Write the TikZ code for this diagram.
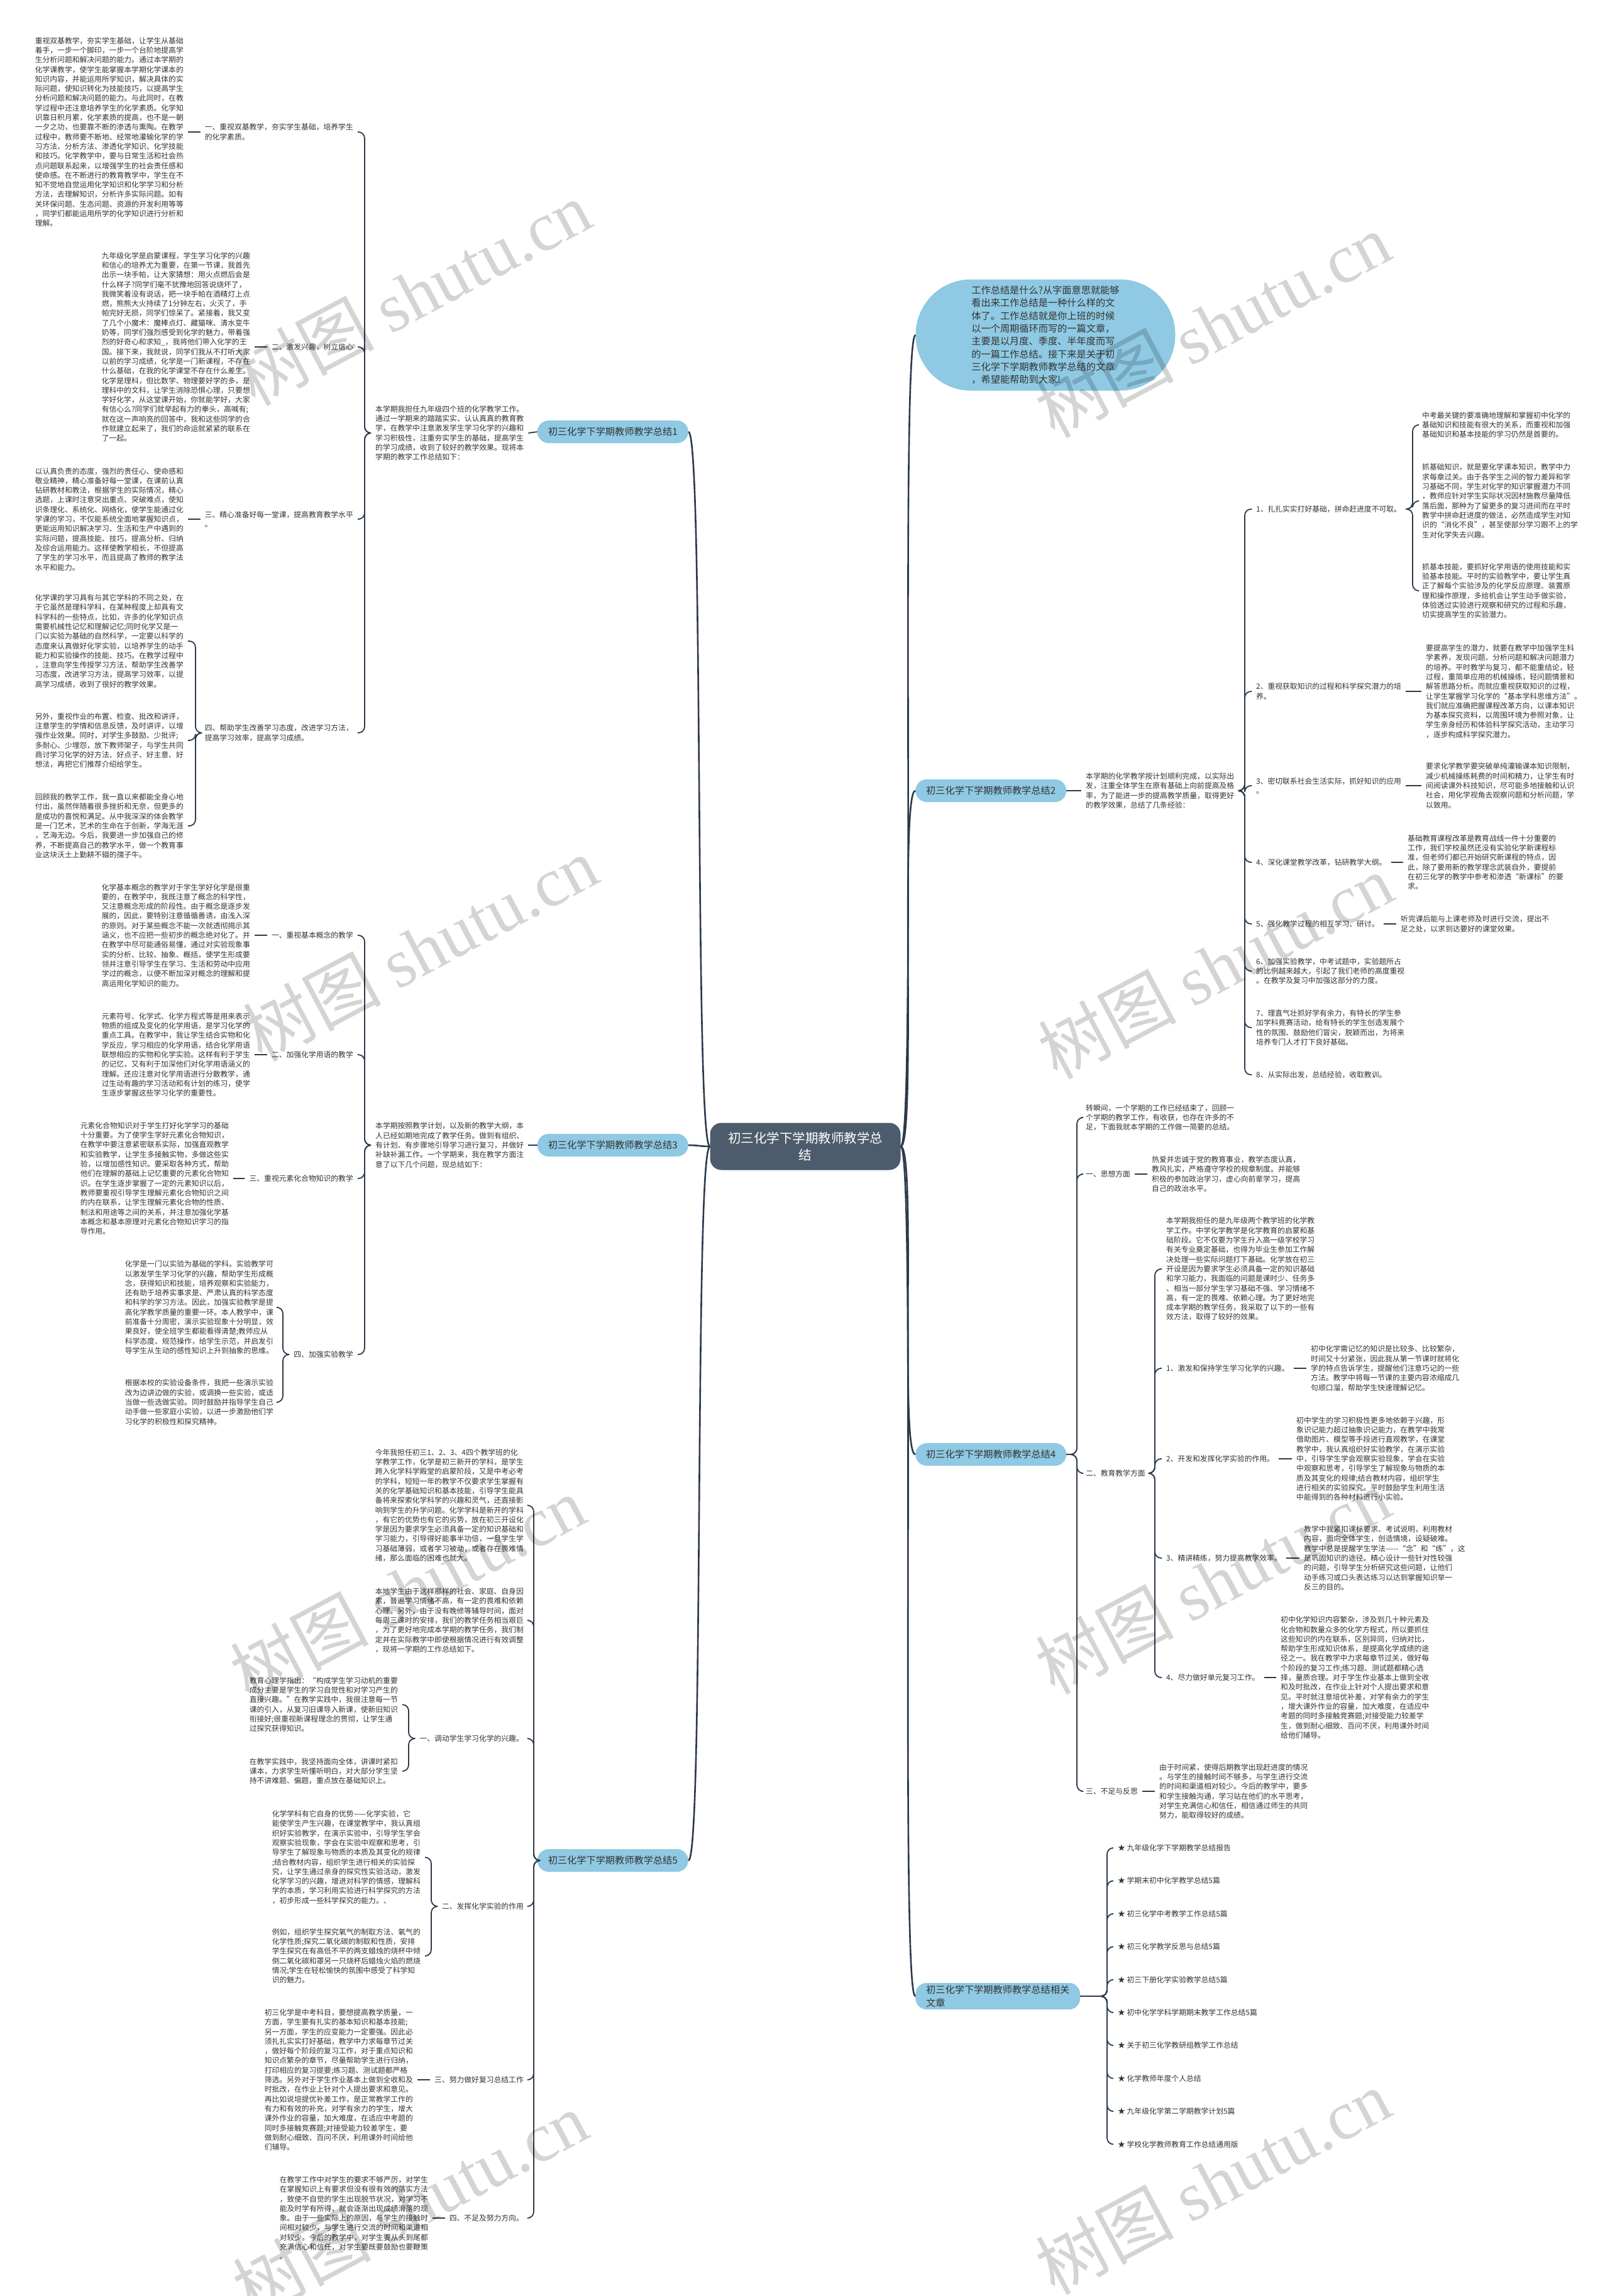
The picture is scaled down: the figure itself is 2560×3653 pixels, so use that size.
\documentclass[tikz,border=0pt]{standalone}
\usepackage{fontspec}
\setmainfont{Noto Sans CJK SC}
\newfontfamily\wmser{Liberation Serif}
\usetikzlibrary{calc}
\definecolor{linec}{RGB}{44,58,74}
\definecolor{nodec}{RGB}{143,201,227}
\definecolor{ctrc}{RGB}{76,92,108}
\definecolor{textc}{RGB}{51,51,51}
\newcommand\bodyf{\fontsize{11.8}{15.3}\selectfont}
\newcommand\brf{\fontsize{15.2}{20.3}\selectfont}
\newcommand\ctrf{\fontsize{20.5}{27}\selectfont}
\newcommand\wmf{\fontsize{110}{110}\selectfont}
\tikzset{
  tx/.style={inner xsep=7pt, inner ysep=1pt, align=left, font=\bodyf, text=textc},
  txe/.style={tx, anchor=east},
  txw/.style={tx, anchor=west},
  bn/.style={fill=nodec, rounded corners=18pt, minimum height=36pt, inner xsep=17pt, inner ysep=4pt, font=\brf, text=textc, align=left},
  ln/.style={draw=linec, line width=1.8pt, rounded corners=10pt},
  cl/.style={draw=linec, line width=2.6pt},
  wm/.style={text=black, opacity=0.17, rotate=28, inner sep=0pt}
}
\begin{document}
\begin{tikzpicture}[x=1pt,y=-1pt]
\path[use as bounding box, fill=white] (0,0) rectangle (2560,3653);

% ---------- center ----------
\node[fill=ctrc, rounded corners=18pt, minimum width=303pt, minimum height=75pt, font=\ctrf, text=white, align=center] (c) at (1281,1824) {初三化学下学期教师教学总\\结};

% ---------- intro bubble ----------
\node[fill=nodec, rounded corners=88pt, minimum width=413pt, minimum height=177pt, font=\brf, text=textc, align=left] (bub) at (1663,533) {工作总结是什么?从字面意思就能够\\看出来工作总结是一种什么样的文\\体了。工作总结就是你上班的时候\\以一个周期循环而写的一篇文章，\\主要是以月度、季度、半年度而写\\的一篇工作总结。接下来是关于初\\三化学下学期教师教学总结的文章\\，希望能帮助到大家!};

% ---------- branch nodes ----------
\node[bn, anchor=east] (b1) at (1095,687) {初三化学下学期教师教学总结1};
\node[bn, anchor=east] (b3) at (1095,1822) {初三化学下学期教师教学总结3};
\node[bn, anchor=east] (b5) at (1095,2960) {初三化学下学期教师教学总结5};
\node[bn, anchor=west] (b2) at (1456,1258) {初三化学下学期教师教学总结2};
\node[bn, anchor=west] (b4) at (1456,2314) {初三化学下学期教师教学总结4};
\node[bn, anchor=west] (b6) at (1456,3176) {初三化学下学期教师教学总结相关\\文章};

\draw[cl] (c.west) .. controls +(-25,0) and +(25,0) .. (b1.east);
\draw[cl] (c.west) .. controls +(-15,0) and +(15,0) .. (b3.east);
\draw[cl] (c.west) .. controls +(-25,0) and +(25,0) .. (b5.east);
\draw[cl] (c.east) .. controls +(25,0) and +(-25,0) .. (bub.west);
\draw[cl] (c.east) .. controls +(25,0) and +(-25,0) .. (b2.west);
\draw[cl] (c.east) .. controls +(25,0) and +(-25,0) .. (b4.west);
\draw[cl] (c.east) .. controls +(25,0) and +(-25,0) .. (b6.west);

% ================= BRANCH 1 =================
\node[txw] (i1) at (590,689) {本学期我担任九年级四个班的化学教学工作。\\通过一学期来的踏踏实实、认认真真的教育教\\学，在教学中注意激发学生学习化学的兴趣和\\学习积极性，注重夯实学生的基础，提高学生\\的学习成绩，收到了较好的教学效果。现将本\\学期的教学工作总结如下：};
\coordinate (v1) at (580,689);
\draw[ln] (b1.west) -- (i1.east);

\node[txe] (l1a) at (569,210) {一、重视双基教学，夯实学生基础，培养学生\\的化学素质。};
\node[txe] (t1a) at (299,210) {重视双基教学，夯实学生基础，让学生从基础\\着手，一步一个脚印，一步一个台阶地提高学\\生分析问题和解决问题的能力。通过本学期的\\化学课教学，使学生能掌握本学期化学课本的\\知识内容，并能运用所学知识，解决具体的实\\际问题，使知识转化为技能技巧，以提高学生\\分析问题和解决问题的能力。与此同时，在教\\学过程中还注意培养学生的化学素质。化学知\\识靠日积月累，化学素质的提高，也不是一朝\\一夕之功，也要靠不断的渗透与熏陶。在教学\\过程中，教师要不断地、经常地灌输化学的学\\习方法、分析方法、渗透化学知识、化学技能\\和技巧。化学教学中，要与日常生活和社会热\\点问题联系起来，以增强学生的社会责任感和\\使命感。在不断进行的教育教学中，学生在不\\知不觉地自觉运用化学知识和化学学习和分析\\方法，去理解知识，分析许多实际问题。如有\\关环保问题、生态问题、资源的开发利用等等\\，同学们都能运用所学的化学知识进行分析和\\理解。};
\node[txe] (l1b) at (569,552) {二、激发兴趣，树立信心};
\node[txe] (t1b) at (405,552) {九年级化学是启蒙课程，学生学习化学的兴趣\\和信心的培养尤为重要，在第一节课，我首先\\出示一块手帕，让大家猜想：用火点燃后会是\\什么样子?同学们毫不犹豫地回答说烧坏了，\\我微笑着没有说话，把一块手帕在酒精灯上点\\燃，熊熊大火持续了1分钟左右，火灭了，手\\帕完好无损，同学们惊呆了。紧接着，我又变\\了几个小魔术：魔棒点灯、藏猫咪、清水变牛\\奶等，同学们强烈感受到化学的魅力，带着强\\烈的好奇心和求知\_，我将他们带入化学的王\\国。接下来，我就说，同学们我从不打听大家\\以前的学习成绩，化学是一门新课程，不存在\\什么基础，在我的化学课堂不存在什么差生。\\化学是理科，但比数学、物理要好学的多，是\\理科中的文科，让学生消除恐惧心理，只要想\\学好化学，从这堂课开始，你就能学好，大家\\有信心么?同学们就举起有力的拳头，高喊有;\\就在这一声响亮的回答中，我和这些同学的合\\作就建立起来了，我们的命运就紧紧的联系在\\了一起。};
\node[txe] (l1c) at (569,826) {三、精心准备好每一堂课，提高教育教学水平\\。};
\node[txe] (t1c) at (299,826) {以认真负责的态度，强烈的责任心、使命感和\\敬业精神，精心准备好每一堂课，在课前认真\\钻研教材和教法，根据学生的实际情况，精心\\选题，上课时注意突出重点、突破难点，使知\\识条理化、系统化、网络化，使学生能通过化\\学课的学习，不仅能系统全面地掌握知识点，\\更能运用知识解决学习、生活和生产中遇到的\\实际问题，提高技能、技巧，提高分析、归纳\\及综合运用能力。这样使教学相长，不但提高\\了学生的学习水平，而且提高了教师的教学法\\水平和能力。};
\node[txe] (l1d) at (569,1166) {四、帮助学生改善学习态度，改进学习方法，\\提高学习效率，提高学习成绩。};
\coordinate (v1d) at (311,1166);
\node[txe] (t1d1) at (299,1020) {化学课的学习具有与其它学科的不同之处，在\\于它虽然是理科学科，在某种程度上却具有文\\科学科的一些特点，比如，许多的化学知识点\\需要机械性记忆和理解记忆;同时化学又是一\\门以实验为基础的自然科学，一定要以科学的\\态度来认真做好化学实验，以培养学生的动手\\能力和实验操作的技能、技巧。在教学过程中\\，注意向学生传授学习方法，帮助学生改善学\\习态度，改进学习方法，提高学习效率，以提\\高学习成绩，收到了很好的教学效果。};
\node[txe] (t1d2) at (299,1178) {另外，重视作业的布置、检查、批改和讲评，\\注意学生的学情和信息反馈，及时讲评，以增\\强作业效果。同时，对学生多鼓励、少批评;\\多耐心、少埋怨，放下教师架子，与学生共同\\商讨学习化学的好方法、好点子、好主意、好\\想法，再把它们推荐介绍给学生。};
\node[txe] (t1d3) at (299,1314) {回顾我的教学工作，我一直以来都能全身心地\\付出，虽然伴随着很多挫折和无奈，但更多的\\是成功的喜悦和满足。从中我深深的体会教学\\是一门艺术，艺术的生命在于创新，学海无涯\\，艺海无边。今后，我要进一步加强自己的修\\养，不断提高自己的教学水平，做一个教育事\\业这块沃土上勤耕不辍的孺子牛。};

\foreach \n in {l1a,l1b,l1c,l1d}{\draw[ln] (\n.east) -- (\n.east -| v1) -- (v1) -- (i1.west);}
\draw[ln] (t1a.east) -- (l1a.west);
\draw[ln] (t1b.east) -- (l1b.west);
\draw[ln] (t1c.east) -- (l1c.west);
\foreach \n in {t1d1,t1d2,t1d3}{\draw[ln] (\n.east) -- (\n.east -| v1d) -- (v1d) -- (l1d.west);}

% ================= BRANCH 3 =================
\node[txw] (i3) at (590,1822) {本学期按照教学计划，以及新的教学大纲，本\\人已经如期地完成了教学任务。做到有组织、\\有计划、有步骤地引导学习进行复习，并做好\\补缺补漏工作。一个学期来，我在教学方面注\\意了以下几个问题，现总结如下：};
\coordinate (v3) at (580,1822);
\draw[ln] (b3.west) -- (i3.east);
\node[txe] (l3a) at (569,1488) {一、重视基本概念的教学};
\node[txe] (t3a) at (405,1488) {化学基本概念的教学对于学生学好化学是很重\\要的，在教学中，我既注意了概念的科学性，\\又注意概念形成的阶段性。由于概念是逐步发\\展的，因此，要特别注意循循善诱，由浅入深\\的原则。对于某些概念不能一次就透彻揭示其\\涵义，也不应把一些初步的概念绝对化了。并\\在教学中尽可能通俗易懂，通过对实验现象事\\实的分析、比较、抽象、概括，使学生形成要\\领并注意引导学生在学习、生活和劳动中应用\\学过的概念，以便不断加深对概念的理解和提\\高运用化学知识的能力。};
\node[txe] (l3b) at (569,1678) {二、加强化学用语的教学};
\node[txe] (t3b) at (405,1678) {元素符号、化学式、化学方程式等是用来表示\\物质的组成及变化的化学用语，是学习化学的\\重点工具。在教学中，我让学生结合实物和化\\学反应，学习相应的化学用语，结合化学用语\\联想相应的实物和化学实验。这样有利于学生\\的记忆，又有利于加深他们对化学用语涵义的\\理解。还应注意对化学用语进行分散教学，通\\过生动有趣的学习活动和有计划的练习，使学\\生逐步掌握这些学习化学的重要性。};
\node[txe] (l3c) at (569,1875) {三、重视元素化合物知识的教学};
\node[txe] (t3c) at (371,1875) {元素化合物知识对于学生打好化学学习的基础\\十分重要。为了使学生学好元素化合物知识，\\在教学中要注意紧密联系实际，加强直观教学\\和实验教学，让学生多接触实物，多做这些实\\验，以增加感性知识。要采取各种方式，帮助\\他们在理解的基础上记忆重要的元素化合物知\\识。在学生逐步掌握了一定的元素知识以后，\\教师要重视引导学生理解元素化合物知识之间\\的内在联系，让学生理解元素化合物的性质、\\制法和用途等之间的关系，并注意加强化学基\\本概念和基本原理对元素化合物知识学习的指\\导作用。};
\node[txe] (l3d) at (569,2155) {四、加强实验教学};
\coordinate (v3d) at (450,2155);
\node[txe] (t3d1) at (442,2080) {化学是一门以实验为基础的学科。实验教学可\\以激发学生学习化学的兴趣，帮助学生形成概\\念，获得知识和技能，培养观察和实验能力，\\还有助于培养实事求是、严肃认真的科学态度\\和科学的学习方法。因此，加强实验教学是提\\高化学教学质量的重要一环。本人教学中，课\\前准备十分周密，演示实验现象十分明显，效\\果良好，使全班学生都能看得清楚;教师应从\\科学态度、规范操作，给学生示范，并启发引\\导学生从生动的感性知识上升到抽象的思维。};
\node[txe] (t3d2) at (442,2231) {根据本校的实验设备条件，我把一些演示实验\\改为边讲边做的实验，或调换一些实验，或适\\当做一些选做实验。同时鼓励并指导学生自己\\动手做一些家庭小实验，以进一步激励他们学\\习化学的积极性和探究精神。};
\foreach \n in {l3a,l3b,l3c,l3d}{\draw[ln] (\n.east) -- (\n.east -| v3) -- (v3) -- (i3.west);}
\draw[ln] (t3a.east) -- (l3a.west);
\draw[ln] (t3b.east) -- (l3b.west);
\draw[ln] (t3c.east) -- (l3c.west);
\foreach \n in {t3d1,t3d2}{\draw[ln] (\n.east) -- (\n.east -| v3d) -- (v3d) -- (l3d.west);}

% ================= BRANCH 5 =================
\coordinate (v5) at (849,2960);
\node[txe] (i5a) at (840,2395) {今年我担任初三1、2、3、4四个教学班的化\\学教学工作，化学是初三新开的学科，是学生\\跨入化学科学殿堂的启蒙阶段，又是中考必考\\的学科，短短一年的教学不仅要求学生掌握有\\关的化学基础知识和基本技能，引导学生能具\\备将来探索化学科学的兴趣和灵气，还直接影\\响到学生的升学问题。化学学科是新开的学科\\，有它的优势也有它的劣势，放在初三开设化\\学是因为要求学生必须具备一定的知识基础和\\学习能力，引导得好能事半功倍，一旦学生学\\习基础薄弱，或者学习被动，或者存在畏难情\\绪，那么面临的困难也就大。};
\node[txe] (i5b) at (840,2578) {本地学生由于这样那样的社会、家庭、自身因\\素，普遍学习情绪不高，有一定的畏难和依赖\\心理。另外，由于没有晚修等辅导时间，面对\\每周三课时的安排，我们的教学任务相当艰巨\\，为了更好地完成本学期的教学任务，我们制\\定并在实际教学中即使根据情况进行有效调整\\，现将一学期的工作总结如下。};
\node[txe] (l5a) at (840,2766) {一、调动学生学习化学的兴趣。};
\coordinate (v5a) at (650,2766);
\node[txe] (t5a1) at (640,2712) {教育心理学指出：“构成学生学习动机的重要\\成分主要是学生的学习自觉性和对学习产生的\\直接兴趣。”在教学实践中，我很注意每一节\\课的引入，从复习旧课导入新课，使新旧知识\\衔接好;很重视新课程理念的贯彻，让学生通\\过探究获得知识。};
\node[txe] (t5a2) at (640,2818) {在教学实践中，我坚持面向全体，讲课时紧扣\\课本，力求学生听懂听明白，对大部分学生坚\\持不讲难题、偏题，重点放在基础知识上。};
\node[txe] (l5b) at (840,3033) {二、发挥化学实验的作用};
\coordinate (v5b) at (686,3033);
\node[txe] (t5b1) at (676,2955) {化学学科有它自身的优势——化学实验，它\\能使学生产生兴趣，在课堂教学中，我认真组\\织好实验教学，在演示实验中，引导学生学会\\观察实验现象，学会在实验中观察和思考，引\\导学生了解现象与物质的本质及其变化的规律\\;结合教材内容，组织学生进行相关的实验探\\究，让学生通过亲身的探究性实验活动，激发\\化学学习的兴趣，增进对科学的情感，理解科\\学的本质，学习利用实验进行科学探究的方法\\，初步形成一些科学探究的能力。、};
\node[txe] (t5b2) at (676,3112) {例如，组织学生探究氧气的制取方法、氧气的\\化学性质;探究二氧化碳的制取和性质，安排\\学生探究在有高低不平的两支蜡烛的烧杯中倾\\倒二氧化碳和罩另一只烧杯后蜡烛火焰的燃烧\\情况;学生在轻松愉快的氛围中感受了科学知\\识的魅力。};
\node[txe] (l5c) at (840,3309) {三、努力做好复习总结工作};
\node[txe] (t5c) at (664,3309) {初三化学是中考科目，要想提高教学质量，一\\方面，学生要有扎实的基本知识和基本技能;\\另一方面，学生的应变能力一定要强。因此必\\须扎扎实实打好基础，教学中力求每章节过关\\，做好每个阶段的复习工作，对于重点知识和\\知识点繁杂的章节，尽量帮助学生进行归纳，\\打印相应的复习提要;练习题、测试题都严格\\筛选。另外对于学生作业基本上做到全收和及\\时批改，在作业上针对个人提出要求和意见。\\再比如说培提优补差工作，是正常教学工作的\\有力和有效的补充，对学有余力的学生，增大\\课外作业的容量，加大难度，在适应中考题的\\同时多接触竞赛题;对接受能力较差学生，要\\做到耐心细致、百问不厌，利用课外时间给他\\们辅导。};
\node[txe] (l5d) at (840,3529) {四、不足及努力方向。};
\node[txe] (t5d) at (688,3529) {在教学工作中对学生的要求不够严厉，对学生\\在掌握知识上有要求但没有很有效的落实方法\\，致使不自觉的学生出现脱节状况，对学习不\\能及时学有所得，就会逐渐出现成绩滑落的现\\象。由于一些实际上的原因，与学生的接触时\\间相对较少，与学生进行交流的时间和渠道相\\对较少。今后的教学中，对学生要从头到尾都\\充满信心和信任，对学生要既要鼓励也要鞭策\\。};
\foreach \n in {i5a,i5b,l5a,l5b,l5c,l5d}{\draw[ln] (\n.east) -- (\n.east -| v5) -- (v5) -- (b5.west);}
\foreach \n in {t5a1,t5a2}{\draw[ln] (\n.east) -- (\n.east -| v5a) -- (v5a) -- (l5a.west);}
\foreach \n in {t5b1,t5b2}{\draw[ln] (\n.east) -- (\n.east -| v5b) -- (v5b) -- (l5b.west);}
\draw[ln] (t5c.east) -- (l5c.west);
\draw[ln] (t5d.east) -- (l5d.west);

% ================= BRANCH 2 =================
\node[txw] (i2) at (1720,1258) {本学期的化学教学按计划顺利完成，以实际出\\发，注重全体学生在原有基础上向前提高及格\\率，为了能进一步的提高教学质量，取得更好\\的教学效果，总结了几条经验：};
\coordinate (v2) at (1980,1258);
\draw[ln] (b2.east) -- (i2.west);
\node[txw] (l21) at (1991,810) {1、扎扎实实打好基础，拼命赶进度不可取。};
\coordinate (v21) at (2247,810);
\node[txw] (t21a) at (2255,676) {中考最关键的要准确地理解和掌握初中化学的\\基础知识和技能有很大的关系，而重视和加强\\基础知识和基本技能的学习仍然是首要的。};
\node[txw] (t21b) at (2255,797) {抓基础知识，就是要化学课本知识，教学中力\\求每章过关。由于各学生之间的智力差异和学\\习基础不同，学生对化学的知识掌握潜力不同\\，教师应针对学生实际状况因材施教尽量降低\\落后面，那种为了留更多的复习进间而在平时\\教学中拼命赶进度的做法，必然造成学生对知\\识的“消化不良”，甚至使部分学习跟不上的学\\生对化学失去兴趣。};
\node[txw] (t21c) at (2255,940) {抓基本技能，要抓好化学用语的使用技能和实\\验基本技能。平时的实验教学中，要让学生真\\正了解每个实验涉及的化学反应原理、装置原\\理和操作原理，多给机会让学生动手做实验，\\体验透过实验进行观察和研究的过程和乐趣，\\切实提高学生的实验潜力。};
\node[txw] (l22) at (1991,1100) {2、重视获取知识的过程和科学探究潜力的培\\养。};
\node[txw] (t22) at (2261,1100) {要提高学生的潜力，就要在教学中加强学生科\\学素养，发现问题、分析问题和解决问题潜力\\的培养。平时教学与复习，都不能重结论，轻\\过程，重简单应用的机械操练，轻问题情景和\\解答思路分析。而就应重视获取知识的过程，\\让学生掌握学习化学的“基本学科思维方法”。\\我们就应准确把握课程改革方向，以课本知识\\为基本探究资料，以周围环境为参照对象，让\\学生亲身经历和体验科学探究活动，主动学习\\，逐步构成科学探究潜力。};
\node[txw] (l23) at (1991,1250) {3、密切联系社会生活实际，抓好知识的应用\\。};
\node[txw] (t23) at (2261,1250) {要求化学教学要突破单纯灌输课本知识限制，\\减少机械操练耗费的时间和精力，让学生有时\\间阅读课外科技知识，尽可能多地接触和认识\\社会，用化学视角去观察问题和分析问题，学\\以致用。};
\node[txw] (l24) at (1991,1372) {4、深化课堂教学改革，钻研教学大纲。};
\node[txw] (t24) at (2232,1372) {基础教育课程改革是教育战线一件十分重要的\\工作，我们学校虽然还没有实验化学新课程标\\准，但老师们都已开始研究新课程的特点，因\\此，除了要用新的教学理念武装自外，要提前\\在初三化学的教学中参考和渗透“新课标”的要\\求。};
\node[txw] (l25) at (1991,1470) {5、强化教学过程的相互学习、研讨。};
\node[txw] (t25) at (2221,1470) {听完课后能与上课老师及时进行交流，提出不\\足之处，以求到达要好的课堂效果。};
\node[txw] (l26) at (1991,1545) {6、加强实验教学，中考试题中，实验题所占\\的比例越来越大，引起了我们老师的高度重视\\。在教学及复习中加强这部分的力度。};
\node[txw] (l27) at (1991,1635) {7、理直气壮抓好学有余力，有特长的学生参\\加学科竟赛活动，给有特长的学生创造发展个\\性的氛围、鼓励他们冒尖，脱颖而出，为将来\\培养专门人才打下良好基础。};
\node[txw] (l28) at (1991,1710) {8、从实际出发，总结经验，收取教训。};
\foreach \n in {l21,l22,l23,l24,l25,l26,l27,l28}{\draw[ln] (i2.east) -- (v2) -- (v2 |- \n.west) -- (\n.west);}
\foreach \n in {t21a,t21b,t21c}{\draw[ln] (l21.east) -- (v21) -- (v21 |- \n.west) -- (\n.west);}
\draw[ln] (l22.east) -- (t22.west);
\draw[ln] (l23.east) -- (t23.west);
\draw[ln] (l24.east) -- (t24.west);
\draw[ln] (l25.east) -- (t25.west);

% ================= BRANCH 4 =================
\coordinate (v4) at (1713,2314);
\node[txw] (t40) at (1720,1778) {转瞬间，一个学期的工作已经结束了，回顾一\\个学期的教学工作，有收获，也存在许多的不\\足，下面我就本学期的工作做一简要的总结。};
\node[txw] (l41) at (1720,1868) {一、思想方面};
\node[txw] (t41) at (1825,1868) {热爱并忠诚于党的教育事业，教学态度认真，\\教风扎实，严格遵守学校的规章制度。并能够\\积极的参加政治学习，虚心向前辈学习，提高\\自己的政治水平。};
\node[txw] (l42) at (1720,2344) {二、教育教学方面};
\coordinate (v42) at (1837,2344);
\node[txw] (t420) at (1848,2019) {本学期我担任的是九年级两个教学班的化学教\\学工作。中学化学教学是化学教育的启蒙和基\\础阶段。它不仅要为学生升入高一级学校学习\\有关专业奠定基础，也得为毕业生参加工作解\\决处理一些实际问题打下基础。化学放在初三\\开设是因为要求学生必须具备一定的知识基础\\和学习能力，我面临的问题是课时少、任务多\\、相当一部分学生学习基础不强、学习情绪不\\高，有一定的畏难、依赖心理。为了更好地完\\成本学期的教学任务，我采取了以下的一些有\\效方法，取得了较好的效果。};
\node[txw] (l421) at (1848,2177) {1、激发和保持学生学习化学的兴趣。};
\node[txw] (t421) at (2078,2177) {初中化学需记忆的知识是比较多、比较繁杂，\\时间又十分紧张，因此我从第一节课时就将化\\学的特点告诉学生，提醒他们注意巧记的一些\\方法。教学中将每一节课的主要内容浓缩成几\\句顺口溜，帮助学生快速理解记忆。};
\node[txw] (l422) at (1848,2321) {2、开发和发挥化学实验的作用。};
\node[txw] (t422) at (2055,2321) {初中学生的学习积极性更多地依赖于兴趣，形\\象识记能力超过抽象识记能力，在教学中我常\\借助图片、模型等手段进行直观教学，在课堂\\教学中，我认真组织好实验教学，在演示实验\\中，引导学生学会观察实验现象，学会在实验\\中观察和思考，引导学生了解现象与物质的本\\质及其变化的规律;结合教材内容，组织学生\\进行相关的实验探究。平时鼓励学生利用生活\\中能得到的各种材料进行小实验。};
\node[txw] (l423) at (1848,2479) {3、精讲精练，努力提高教学效率。};
\node[txw] (t423) at (2067,2479) {教学中我紧扣课标要求、考试说明，利用教材\\内容，面向全体学生，创造情境，设疑破难。\\教学中总是提醒学生学法{-}{-}{-}{-}{-}“念”和“练”，这\\是巩固知识的途径。精心设计一些针对性较强\\的问题，引导学生分析研究这些问题，让他们\\动手练习或口头表达练习以达到掌握知识举一\\反三的目的。};
\node[txw] (l424) at (1848,2669) {4、尽力做好单元复习工作。};
\node[txw] (t424) at (2030,2669) {初中化学知识内容繁杂，涉及到几十种元素及\\化合物和数量众多的化学方程式，所以要抓住\\这些知识的内在联系，区别异同，归纳对比，\\帮助学生形成知识体系，是提高化学成绩的途\\径之一。我在教学中力求每章节过关，做好每\\个阶段的复习工作;练习题、测试题都精心选\\择，量质合理。对于学生作业基本上做到全收\\和及时批改，在作业上针对个人提出要求和意\\见。平时就注意培优补差，对学有余力的学生\\，增大课外作业的容量，加大难度，在适应中\\考题的同时多接触竞赛题;对接受能力较差学\\生，做到耐心细致、百问不厌，利用课外时间\\给他们辅导。};
\node[txw] (l43) at (1720,2850) {三、不足与反思};
\node[txw] (t43) at (1837,2850) {由于时间紧，使得后期教学出现赶进度的情况\\。与学生的接触时间不够多，与学生进行交流\\的时间和渠道相对较少。今后的教学中，要多\\和学生接触沟通，学习站在他们的水平思考，\\对学生充满信心和信任，相信通过师生的共同\\努力，能取得较好的成绩。};
\foreach \n in {t40,l41,l42,l43}{\draw[ln] (b4.east) -- (v4) -- (v4 |- \n.west) -- (\n.west);}
\draw[ln] (l41.east) -- (t41.west);
\foreach \n in {t420,l421,l422,l423,l424}{\draw[ln] (l42.east) -- (v42) -- (v42 |- \n.west) -- (\n.west);}
\draw[ln] (l421.east) -- (t421.west);
\draw[ln] (l422.east) -- (t422.west);
\draw[ln] (l423.east) -- (t423.west);
\draw[ln] (l424.east) -- (t424.west);
\draw[ln] (l43.east) -- (t43.west);

% ================= BRANCH 6 =================
\coordinate (v6) at (1761,3176);
\foreach \t [count=\k from 0] in {九年级化学下学期教学总结报告,学期末初中化学教学总结5篇,初三化学中考教学工作总结5篇,初三化学教学反思与总结5篇,初三下册化学实验教学总结5篇,初中化学学科学期期末教学工作总结5篇,关于初三化学教研组教学工作总结,化学教师年度个人总结,九年级化学第二学期教学计划5篇,学校化学教师教育工作总结通用版}{
  \node[txw] (r\k) at (1771,2940+52.4*\k) {★ \t};
  \draw[ln] (b6.east) -- (v6) -- (v6 |- r\k.west) -- (r\k.west);
}

% ---------- watermarks ----------
\foreach \p in {(657,466),(1929,517),(668,1509),(1933,1537),(648,2527),(1929,2516),(652,3506),(1929,3471)}{
  \node[wm] at \p {\wmf 树图 {\wmser shutu.cn}};
}
\end{tikzpicture}
\end{document}
